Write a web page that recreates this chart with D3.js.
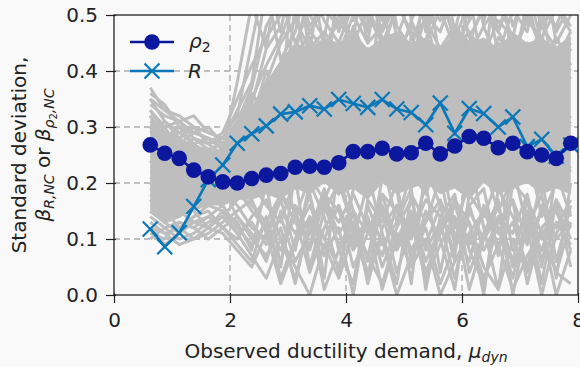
<!DOCTYPE html>
<html>
<head>
<meta charset="utf-8">
<title>Standard deviation vs ductility demand</title>
<script src="https://cdn.jsdelivr.net/npm/d3@7"></script>
<style>
  body { margin: 0; background: #f9f9f9; }
  svg { font-family: 'DejaVu Sans', sans-serif; }
</style>
</head>
<body>
<script>
// bin centres on the ductility axis
var binX = [0.625, 0.875, 1.125, 1.375, 1.625, 1.875, 2.125, 2.375, 2.625, 2.875,
            3.125, 3.375, 3.625, 3.875, 4.125, 4.375, 4.625, 4.875, 5.125, 5.375,
            5.625, 5.875, 6.125, 6.375, 6.625, 6.875, 7.125, 7.375, 7.625, 7.875];

// standard deviation of rho2 per bin
var rho2Std = [0.268, 0.253, 0.244, 0.223, 0.211, 0.202, 0.200, 0.208, 0.214, 0.217,
               0.228, 0.230, 0.228, 0.236, 0.256, 0.256, 0.262, 0.252, 0.254, 0.271,
               0.252, 0.266, 0.283, 0.280, 0.263, 0.271, 0.256, 0.250, 0.244, 0.271];

// standard deviation of R per bin
var rStd = [0.118, 0.086, 0.111, 0.158, 0.206, 0.232, 0.271, 0.288, 0.302, 0.323,
            0.327, 0.338, 0.332, 0.349, 0.342, 0.335, 0.349, 0.332, 0.326, 0.304,
            0.343, 0.289, 0.333, 0.324, 0.300, 0.318, 0.265, 0.278, 0.248, 0.268];

// dense core of the individual records (grey cloud)
var grayLow  = [.15,.13,.14,.15,.16,.16,.17,.17,.18,.17,.19,.18,.20,.18,.19,.17,.20,.18,.19,.20,.18,.19,.17,.20,.18,.19,.20,.18,.19,.18];
var grayHigh = [.31,.29,.28,.27,.26,.26,.29,.33,.38,.42,.45,.44,.46,.45,.47,.44,.46,.47,.45,.46,.44,.47,.45,.46,.44,.47,.45,.46,.44,.46];

// individual records (grey lines)
var grayLines = [
  [.37,.33,.31,.32,.29,.28,.33,.38,.55,.42,.47,.58,.44,.50,.46,.61,.43,.52,.47,.45,.58,.44,.49,.56,.43,.51,.47,.60,.45,.50],
  [.12,.09,.11,.14,.16,.15,.13,.08,.20,.05,.22,.18,.03,.24,.15,.06,.21,.19,.02,.23,.16,.07,.25,.12,.01,.20,.17,.05,.22,.14],
  [.30,.27,.25,.22,.20,.19,.24,.30,.35,.41,.38,.45,.40,.36,.48,.42,.39,.44,.41,.50,.38,.43,.47,.40,.45,.39,.53,.42,.46,.41],
  [.20,.18,.19,.17,.21,.18,.16,.12,.10,.17,.08,.20,.14,.04,.19,.22,.11,.02,.18,.13,.21,.09,.16,.19,.07,.23,.12,.18,.03,.20],
  [.25,.24,.22,.24,.20,.22,.27,.31,.28,.36,.33,.30,.37,.34,.39,.32,.36,.40,.33,.37,.35,.31,.38,.34,.36,.41,.33,.37,.35,.39],
  [.33,.29,.28,.26,.25,.23,.21,.26,.31,.29,.52,.37,.34,.57,.40,.36,.53,.38,.35,.59,.41,.37,.54,.39,.62,.40,.36,.51,.38,.44],
  [.15,.13,.14,.16,.18,.17,.19,.15,.12,.06,.16,.11,.19,.08,.02,.17,.13,.20,.06,.15,.10,.01,.18,.14,.21,.08,.15,.02,.17,.12],
  [.28,.26,.27,.25,.23,.24,.22,.25,.23,.27,.24,.29,.26,.31,.28,.25,.30,.27,.32,.29,.26,.31,.28,.25,.30,.27,.24,.29,.26,.28],
  [.22,.21,.18,.20,.19,.21,.23,.20,.26,.22,.19,.25,.21,.18,.24,.20,.27,.22,.19,.25,.21,.23,.20,.26,.22,.19,.24,.21,.25,.22],
  [.35,.31,.29,.30,.27,.25,.26,.29,.33,.30,.35,.32,.42,.38,.34,.40,.37,.43,.39,.36,.41,.46,.38,.42,.37,.44,.40,.38,.43,.40],
  [.18,.16,.15,.13,.14,.12,.09,.06,.14,.03,.10,.18,.07,.12,.00,.16,.09,.13,.19,.01,.14,.18,.04,.11,.17,.00,.13,.08,.16,.10],
  [.27,.23,.24,.21,.23,.20,.18,.22,.19,.24,.14,.21,.17,.23,.10,.20,.24,.13,.22,.18,.25,.12,.20,.23,.15,.21,.26,.14,.20,.23],
  [.31,.30,.26,.28,.26,.27,.29,.34,.44,.48,.43,.55,.49,.45,.52,.47,.63,.48,.44,.53,.49,.57,.46,.51,.60,.48,.55,.45,.58,.50],
  [.10,.12,.10,.11,.13,.14,.17,.20,.16,.13,.21,.05,.15,.20,.12,.03,.18,.15,.10,.20,.04,.17,.13,.00,.19,.14,.09,.21,.06,.16],
  [.24,.20,.21,.19,.17,.16,.20,.18,.22,.19,.27,.23,.20,.28,.24,.21,.26,.30,.23,.27,.20,.29,.24,.22,.28,.25,.21,.27,.23,.26],
  [.29,.28,.30,.27,.28,.26,.30,.36,.32,.39,.44,.36,.41,.38,.35,.44,.40,.37,.46,.42,.39,.36,.43,.48,.41,.37,.45,.40,.42,.47],
  [.17,.14,.16,.15,.12,.14,.11,.13,.09,.14,.06,.11,.16,.09,.13,.07,.15,.04,.12,.09,.16,.06,.11,.15,.09,.13,.05,.16,.10,.13],
  [.32,.27,.26,.23,.24,.22,.25,.24,.29,.33,.30,.34,.31,.28,.33,.29,.35,.31,.28,.32,.36,.30,.27,.33,.30,.35,.31,.28,.33,.30],
  [.26,.25,.23,.26,.22,.25,.28,.31,.40,.35,.60,.43,.62,.50,.58,.45,.61,.55,.64,.47,.59,.52,.63,.49,.57,.62,.50,.58,.53,.61],
  [.13,.11,.12,.10,.11,.13,.15,.17,.11,.18,.13,.09,.18,.15,.08,.13,.01,.10,.15,.06,.12,.17,.08,.02,.14,.11,.18,.06,.13,.09],
  [.21,.19,.20,.18,.16,.18,.21,.27,.25,.31,.28,.25,.33,.29,.26,.31,.34,.28,.25,.30,.33,.27,.31,.29,.26,.32,.29,.33,.28,.31],
  [.34,.32,.31,.29,.28,.27,.30,.33,.37,.34,.40,.46,.39,.43,.40,.37,.45,.41,.49,.43,.40,.48,.42,.39,.46,.43,.50,.44,.41,.45],
  [.19,.17,.17,.19,.17,.19,.14,.10,.07,.12,.02,.14,.10,.16,.05,.11,.16,.08,.13,.03,.09,.14,.01,.10,.16,.05,.12,.00,.11,.15],
  [.23,.22,.20,.22,.19,.20,.24,.22,.20,.25,.31,.27,.24,.29,.33,.26,.23,.30,.27,.33,.28,.25,.32,.36,.29,.27,.31,.34,.29,.32],
  [.36,.34,.30,.29,.30,.27,.31,.37,.48,.53,.45,.51,.56,.47,.54,.49,.58,.46,.53,.50,.47,.55,.60,.48,.52,.46,.57,.51,.48,.55],
  [.29,.31,.28,.30,.27,.29,.35,.41,.46,.50,.57,.48,.52,.61,.49,.55,.47,.52,.59,.50,.54,.62,.49,.53,.47,.56,.50,.60,.52,.48],
  [.32,.28,.29,.27,.25,.26,.30,.33,.38,.45,.49,.44,.47,.43,.50,.45,.48,.53,.46,.49,.44,.48,.45,.52,.47,.43,.49,.46,.51,.47],
  [.27,.26,.27,.25,.26,.24,.27,.30,.34,.38,.42,.47,.44,.49,.45,.51,.46,.43,.48,.45,.51,.44,.47,.43,.49,.46,.42,.48,.44,.46],
  [.14,.12,.13,.12,.14,.16,.12,.09,.13,.08,.14,.04,.12,.16,.09,.14,.05,.12,.17,.08,.13,.03,.15,.10,.14,.06,.17,.11,.04,.13],
  [.16,.15,.12,.14,.15,.12,.14,.11,.06,.15,.11,.16,.10,.05,.15,.11,.18,.09,.14,.04,.11,.16,.09,.15,.11,.17,.02,.12,.15,.08],
  [.11,.10,.13,.12,.10,.12,.10,.14,.17,.10,.03,.13,.17,.11,.15,.02,.12,.16,.08,.13,.17,.11,.06,.16,.12,.03,.14,.10,.17,.05],
  [.19,.18,.16,.18,.19,.17,.18,.16,.13,.18,.15,.08,.17,.13,.18,.12,.07,.16,.11,.17,.14,.10,.16,.08,.13,.17,.10,.15,.12,.17],
  [.33,.30,.31,.28,.27,.28,.32,.45,.58,.47,.62,.50,.46,.60,.52,.48,.57,.63,.49,.55,.61,.47,.58,.53,.64,.50,.56,.48,.62,.54],
  [.30,.29,.27,.29,.28,.26,.38,.52,.44,.60,.49,.56,.63,.51,.60,.55,.49,.58,.52,.62,.56,.50,.61,.57,.51,.59,.63,.53,.57,.60],
  [.35,.33,.32,.30,.29,.28,.29,.35,.41,.46,.53,.47,.51,.48,.56,.50,.45,.51,.57,.48,.53,.46,.52,.59,.47,.54,.49,.55,.47,.52],
  [.12,.11,.09,.10,.12,.11,.08,.05,.11,.02,.09,.14,.01,.08,.13,.04,.10,.00,.07,.12,.02,.09,.13,.05,.01,.10,.04,.12,.00,.08],
  [.15,.13,.11,.13,.12,.15,.11,.07,.03,.10,.05,.00,.09,.03,.11,.07,.02,.11,.05,.10,.00,.06,.11,.03,.09,.01,.07,.11,.04,.02]
];

var xTicks = [0, 2, 4, 6, 8];
var yTicks = [0, 0.1, 0.2, 0.3, 0.4, 0.5];

var W = 580, H = 367;
var margin = {top: 15, right: 2, bottom: 72, left: 114};
var width = W - margin.left - margin.right,
    height = H - margin.top - margin.bottom;

var rhoColor = '#0b189e', rColor = '#0a78b8', grey = '#bebebe', ink = '#222';
var fs = 20, fsSub = 14;

var svg = d3.select('body').append('svg')
    .attr('width', W)
    .attr('height', H);

svg.append('rect').attr('width', W).attr('height', H).attr('fill', '#f9f9f9');

svg.append('clipPath').attr('id', 'plotclip')
  .append('rect').attr('width', width).attr('height', height);

var g = svg.append('g').attr('transform', 'translate(' + margin.left + ',' + margin.top + ')');

var x = d3.scaleLinear().domain([0, 8]).range([0, width]);
var y = d3.scaleLinear().domain([0, 0.5]).range([height, 0]);

// grid
g.append('g').selectAll('line').data(yTicks.slice(1, -1)).enter().append('line')
    .attr('x1', 0).attr('x2', width)
    .attr('y1', d => y(d)).attr('y2', d => y(d))
    .attr('stroke', '#aaa').attr('stroke-width', 1.3).attr('stroke-dasharray', '6,4');
g.append('g').selectAll('line').data(xTicks.slice(1, -1)).enter().append('line')
    .attr('y1', 0).attr('y2', height)
    .attr('x1', d => x(d)).attr('x2', d => x(d))
    .attr('stroke', '#aaa').attr('stroke-width', 1.3).attr('stroke-dasharray', '6,4');

var plot = g.append('g').attr('clip-path', 'url(#plotclip)');

// grey cloud
var band = d3.area()
    .x((d, i) => x(binX[i]))
    .y0((d, i) => y(grayLow[i]))
    .y1((d, i) => y(grayHigh[i]));
plot.append('path').datum(binX).attr('d', band).attr('fill', grey);

var line = d3.line().x((d, i) => x(binX[i])).y(d => y(d));

plot.append('g').selectAll('path').data(grayLines).enter().append('path')
    .attr('d', line)
    .attr('fill', 'none')
    .attr('stroke', grey)
    .attr('stroke-width', 3)
    .attr('stroke-linejoin', 'round');

// R series
plot.append('path').datum(rStd).attr('d', line)
    .attr('fill', 'none').attr('stroke', rColor).attr('stroke-width', 2.6);

function xMark(sel, s) {
  sel.append('path')
    .attr('d', 'M' + (-s) + ',' + (-s) + 'L' + s + ',' + s + 'M' + (-s) + ',' + s + 'L' + s + ',' + (-s))
    .attr('stroke', rColor).attr('stroke-width', 2.2).attr('fill', 'none');
}

plot.append('g').selectAll('g').data(rStd).enter().append('g')
    .attr('transform', (d, i) => 'translate(' + x(binX[i]) + ',' + y(d) + ')')
    .call(xMark, 7.5);

// rho2 series
plot.append('path').datum(rho2Std).attr('d', line)
    .attr('fill', 'none').attr('stroke', rhoColor).attr('stroke-width', 2.6);
plot.append('g').selectAll('circle').data(rho2Std).enter().append('circle')
    .attr('cx', (d, i) => x(binX[i]))
    .attr('cy', d => y(d))
    .attr('r', 7.8)
    .attr('fill', rhoColor);

// axes
var xAxis = g.append('g').attr('transform', 'translate(0,' + height + ')')
    .call(d3.axisBottom(x).tickValues(xTicks).tickSize(8).tickPadding(10).tickFormat(d3.format('d')));
var yAxis = g.append('g')
    .call(d3.axisLeft(y).tickValues(yTicks).tickSize(8).tickPadding(8).tickFormat(d3.format('.1f')));

[xAxis, yAxis].forEach(function (a) {
  a.select('.domain').remove();
  a.selectAll('line').attr('stroke', ink).attr('stroke-width', 1.2);
  a.selectAll('text').attr('fill', ink).style('font-size', fs + 'px')
    .style('font-family', "'DejaVu Sans', sans-serif");
});
xAxis.selectAll('line').attr('y1', -2);
yAxis.selectAll('line').attr('x1', 2);

g.append('rect').attr('width', width).attr('height', height)
    .attr('fill', 'none').attr('stroke', ink).attr('stroke-width', 1.3);

// x label
var xl = svg.append('text')
    .attr('x', margin.left + width / 2).attr('y', 358)
    .attr('text-anchor', 'middle').attr('fill', ink).style('font-size', fs + 'px');
xl.append('tspan').text('Observed ductility demand, ');
xl.append('tspan').attr('font-style', 'italic').text('\u03bc');
xl.append('tspan').attr('font-style', 'italic').attr('dy', 4).style('font-size', fsSub + 'px').text('dyn');

// y label
var yl = svg.append('g').attr('transform', 'translate(0,155) rotate(-90)');
yl.append('text').attr('y', 26).attr('text-anchor', 'middle').attr('fill', ink)
    .style('font-size', fs + 'px').text('Standard deviation,');
var y2 = yl.append('text').attr('y', 50).attr('text-anchor', 'middle').attr('fill', ink)
    .style('font-size', fs + 'px');
y2.append('tspan').attr('font-style', 'italic').text('\u03b2');
y2.append('tspan').attr('font-style', 'italic').attr('dy', 4).style('font-size', fsSub + 'px').text('R,NC');
y2.append('tspan').attr('dy', -4).text(' or ');
y2.append('tspan').attr('font-style', 'italic').text('\u03b2');
y2.append('tspan').attr('font-style', 'italic').attr('dy', 4).style('font-size', fsSub + 'px').text('\u03c1');
y2.append('tspan').attr('dy', 3).style('font-size', '10px').text('2');
y2.append('tspan').attr('font-style', 'italic').attr('dy', -3).style('font-size', fsSub + 'px').text(',NC');

// legend
var leg = svg.append('g');
leg.append('line').attr('x1', 130).attr('x2', 174).attr('y1', 42).attr('y2', 42)
    .attr('stroke', rhoColor).attr('stroke-width', 2.6);
leg.append('circle').attr('cx', 152).attr('cy', 42).attr('r', 7.8).attr('fill', rhoColor);
var t1 = leg.append('text').attr('x', 189).attr('y', 48).attr('fill', ink).style('font-size', fs + 'px');
t1.append('tspan').attr('font-style', 'italic').text('\u03c1');
t1.append('tspan').attr('dy', 4).style('font-size', fsSub + 'px').text('2');

leg.append('line').attr('x1', 130).attr('x2', 174).attr('y1', 71).attr('y2', 71)
    .attr('stroke', rColor).attr('stroke-width', 2.6);
leg.append('g').attr('transform', 'translate(152,71)').call(xMark, 7.5);
leg.append('text').attr('x', 188).attr('y', 78).attr('fill', ink)
    .attr('font-style', 'italic').style('font-size', fs + 'px').text('R');
</script>
</body>
</html>
